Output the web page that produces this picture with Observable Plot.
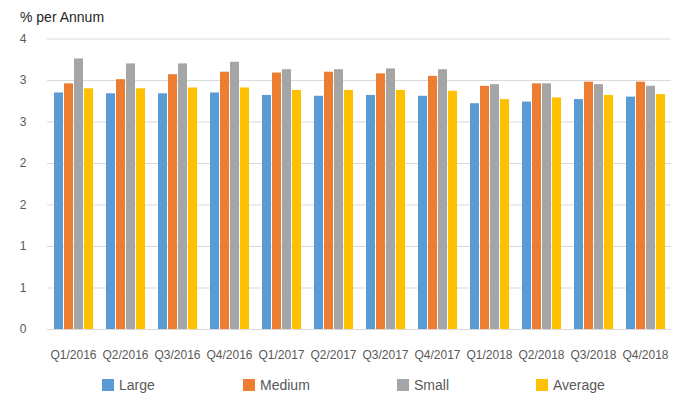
<!DOCTYPE html>
<html>
<head>
<meta charset="utf-8">
<script src="https://cdn.jsdelivr.net/npm/d3@7"></script>
<script src="https://cdn.jsdelivr.net/npm/@observablehq/plot@0.6"></script>
<style>
  html, body { margin: 0; padding: 0; background: #fff; }
  #wrap { position: relative; width: 680px; height: 393px; font-family: "Liberation Sans", Arial, sans-serif; }
  #title { position: absolute; left: 20px; top: 10px; font-size: 14px; line-height: 14px; color: #262626; }
  .leg { position: absolute; top: 377.5px; font-size: 14px; line-height: 14px; color: #595959; white-space: nowrap; }
  .sw { position: absolute; top: 1.2px; width: 12px; height: 12px; }
  .leg span.t { position: absolute; white-space: nowrap; }
</style>
</head>
<body>
<div id="wrap">
  <div id="chart"></div>
  <div id="title">% per Annum</div>
  <div id="legend"></div>
</div>
<script>
const quarters = ["Q1/2016","Q2/2016","Q3/2016","Q4/2016","Q1/2017","Q2/2017","Q3/2017","Q4/2017","Q1/2018","Q2/2018","Q3/2018","Q4/2018"];
const series = ["Large","Medium","Small","Average"];
const large   = [2.85, 2.84, 2.84, 2.85, 2.82, 2.81, 2.82, 2.81, 2.72, 2.74, 2.77, 2.80];
const medium  = [2.96, 3.01, 3.07, 3.10, 3.09, 3.10, 3.08, 3.05, 2.93, 2.96, 2.98, 2.98];
const small   = [3.26, 3.20, 3.20, 3.22, 3.13, 3.13, 3.14, 3.13, 2.95, 2.96, 2.95, 2.93];
const average = [2.90, 2.90, 2.91, 2.91, 2.88, 2.88, 2.88, 2.87, 2.77, 2.79, 2.82, 2.83];
const colors = ["#5B9BD5","#ED7D31","#A5A5A5","#FFC000"];
const yTicks = [0, 0.5, 1, 1.5, 2, 2.5, 3, 3.5];
const yTickLabels = ["0","1","1","2","2","3","3","4"];

const valuesBySeries = [large, medium, small, average];
const data = [];
quarters.forEach((q, i) => {
  series.forEach((s, j) => data.push({quarter: q, series: s, value: valuesBySeries[j][i]}));
});

const chart = Plot.plot({
  width: 680,
  height: 393,
  marginLeft: 45,
  marginRight: 8,
  marginTop: 38.5,
  marginBottom: 64,
  style: {fontFamily: "Liberation Sans, Arial, sans-serif", fontSize: "12px", color: "#595959", background: "#fff"},
  fx: {domain: quarters, padding: 0, label: null, axis: "bottom", tickSize: 0, tickPadding: 20.5},
  x: {domain: series, paddingInner: 0.1, paddingOuter: 0.5, axis: null},
  y: {domain: [0, 3.5], ticks: yTicks, tickFormat: d => yTickLabels[yTicks.indexOf(d)], tickSize: 0, tickPadding: 21, label: null},
  color: {domain: series, range: colors},
  marks: [
    Plot.ruleY(yTicks, {stroke: "#D9D9D9", strokeWidth: 1.2}),
    Plot.barY(data, {fx: "quarter", x: "series", y: "value", fill: "series"})
  ]
});
document.getElementById("chart").appendChild(chart);

const legendPos = [102, 243, 397, 536];
const legend = document.getElementById("legend");
series.forEach((s, i) => {
  const d = document.createElement("div");
  d.className = "leg";
  d.style.left = legendPos[i] + "px";
  d.innerHTML = `<div class="sw" style="background:${colors[i]}"></div><span class="t" style="left:17px">${s}</span>`;
  legend.appendChild(d);
});
</script>
</body>
</html>
